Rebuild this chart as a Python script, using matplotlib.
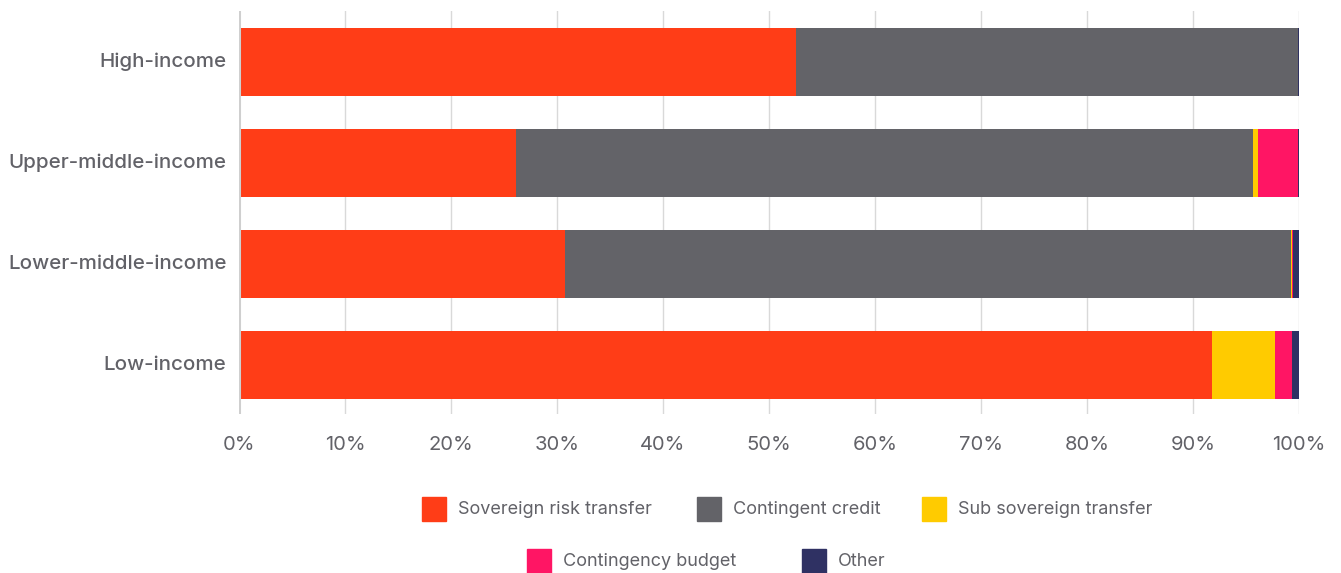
import matplotlib.pyplot as plt
from matplotlib.patches import Rectangle
from matplotlib.transforms import ScaledTranslation

plt.rcParams['font.family'] = ['Inter', 'DejaVu Sans']

income_groups = ['High-income', 'Upper-middle-income', 'Lower-middle-income', 'Low-income']
series_names = ['Sovereign risk transfer', 'Contingent credit', 'Sub sovereign transfer',
                'Contingency budget', 'Other']
sovereign_risk = [52.5, 26.1, 30.75, 91.8]
contingent_credit = [47.4, 69.6, 68.45, 0.0]
sub_sovereign = [0.0, 0.4, 0.1, 5.9]
contingency_budget = [0.0, 3.85, 0.1, 1.6]
other = [0.1, 0.05, 0.6, 0.7]
x_ticks = [0, 10, 20, 30, 40, 50, 60, 70, 80, 90, 100]

colors = ['#FF3D17', '#636368', '#FFCB00', '#FF1564', '#2F3163']
text_color = '#626268'

W, H = 1341, 573
fig = plt.figure(figsize=(W / 100, H / 100), dpi=100)
ax = fig.add_axes([239 / W, 1 - 414 / H, (1299 - 239) / W, (414 - 11) / H])

series = [sovereign_risk, contingent_credit, sub_sovereign, contingency_budget, other]
ypos = list(range(len(income_groups)))
left = [0.0] * len(income_groups)
for vals, name, c in zip(series, series_names, colors):
    ax.barh(ypos, vals, left=left, height=0.673, color=c, label=name, zorder=3)
    left = [l + v for l, v in zip(left, vals)]

ax.set_xlim(0, 100)
ax.set_ylim(3.485, -0.505)
ax.set_yticks(ypos)
ax.set_yticklabels(income_groups, fontsize=14.8, color=text_color, fontweight='medium')
ax.set_xticks(x_ticks)
ax.set_xticklabels([f'{t}%' for t in x_ticks], fontsize=14.5, color=text_color)
ax.tick_params(axis='y', length=0, pad=9)
ax.tick_params(axis='x', length=0, pad=16)
# nudge category labels up a little
shift = ScaledTranslation(0, 2.5 / 100, fig.dpi_scale_trans)
for lbl in ax.get_yticklabels():
    lbl.set_transform(lbl.get_transform() + shift)

ax.grid(axis='x', color='#d9d9d9', linewidth=1, zorder=0)
for s in ax.spines.values():
    s.set_visible(False)
ax.axvline(0, color='#cfcfcf', linewidth=2.2, zorder=4)

# legend laid out in two centred rows
legend_rows = [(509, [422, 697, 922]), (561, [527, 802])]
k = 0
for y_px, xs in legend_rows:
    for x_px in xs:
        fig.patches.append(Rectangle((x_px / W, 1 - (y_px + 12) / H), 24 / W, 24 / H,
                                     transform=fig.transFigure, color=colors[k]))
        fig.text((x_px + 36) / W, 1 - y_px / H, series_names[k], fontsize=13,
                 color=text_color, va='center', ha='left')
        k += 1

fig.savefig('out.png', dpi=100)
